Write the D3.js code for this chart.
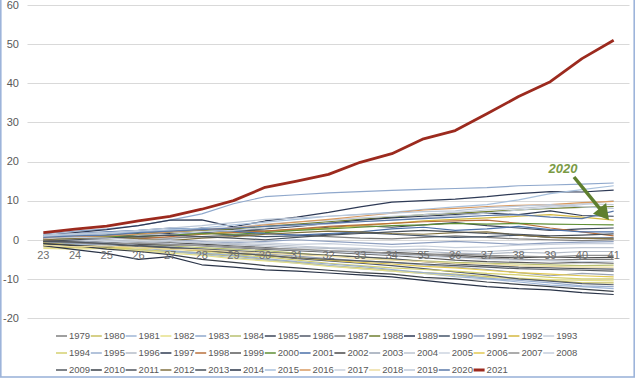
<!DOCTYPE html>
<html>
<head>
<meta charset="utf-8">
<script src="https://cdn.jsdelivr.net/npm/d3@7"></script>
<style>
  html, body { margin: 0; padding: 0; background: #ffffff; }
  svg { display: block; }
  text { font-family: "Liberation Sans", Arial, sans-serif; }
</style>
</head>
<body>
<svg id="chart" width="638" height="381"></svg>
<script>
// ---- data ----
const categories = [23,24,25,26,27,28,29,30,31,32,33,34,35,36,37,38,39,40,41];
const yTicks = [-20,-10,0,10,20,30,40,50,60];

const s1979 = [-0.4,0,0.2,0.6,0.4,0.8,1.2,1.6,1.2,0.8,0.4,0.2,0.6,1,0.6,0.2,0,-0.2,0];
const s1980 = [-1.8,-2,-2.2,-2.6,-3,-3.6,-4.2,-5,-5.8,-6.6,-7.2,-7.8,-8.4,-8.8,-9.4,-10,-10.4,-11,-11];
const s1981 = [-0.8,-1.2,-2,-2.6,-3,-3.8,-4.6,-5.2,-6,-6.6,-7.4,-8,-8.6,-9.4,-10,-10.8,-11.6,-12,-12.5];
const s1982 = [-2.2,-2.4,-2.2,-2.8,-3.4,-4,-4.8,-5.4,-6,-6.8,-7.4,-8,-8.6,-9.2,-9.6,-9.8,-10.2,-10.4,-10.5];
const s1983 = [1.5,2.2,2.8,3.6,5,6.6,9.2,11,11.5,12,12.3,12.6,12.9,13.1,13.3,13.8,14,14.2,14.5];
const s1984 = [-0.6,-1,-0.8,-1.2,-1.6,-2,-2.4,-2.8,-3.4,-4,-4.4,-5,-5.4,-5.8,-6,-6.2,-6.4,-6.6,-6.5];
const s1985 = [0.5,0.8,1.2,1.6,2,3,2.6,2.2,2.6,3.2,3.6,3.2,3.8,4.4,3.6,3,2.4,2.8,3];
const s1986 = [-0.6,-0.8,-1.2,-1.8,-2.2,-2.8,-3.4,-4,-4.8,-5.4,-6,-6.6,-7.4,-8.2,-9,-10,-10.6,-11.2,-11.5];
const s1987 = [-0.8,-0.6,-1,-1.4,-1,-1.6,-2,-2.4,-2.6,-3,-3.2,-3.6,-4,-4.4,-4.8,-5,-5.2,-5,-5];
const s1988 = [0.3,0.6,1.2,1.5,2,2.4,2.8,3.4,4,4.6,5.2,5.8,6.4,6.8,7.2,7.6,8,8.3,8.5];
const s1989 = [1,1.8,2.6,3.6,5,5.1,3.3,4.8,5.8,7,8.4,9.6,10,10.4,11,11.8,12.3,12.2,12.7];
const s1990 = [0.2,0.6,0.8,1,1.4,1.8,1.2,0.8,1,1.4,1.8,1.4,1,0.6,0.8,1.2,0.6,0.4,0.5];
const s1991 = [0.4,0.2,0.6,0.2,0,-0.4,-0.8,-0.4,0,-0.4,-0.8,-1.2,-0.8,-0.4,-0.8,-1.2,-0.8,-0.6,-0.5];
const s1992 = [0.4,0.5,0.2,0.8,1.2,1.5,2,2.2,2.6,3,3.6,4.2,4.8,5.2,5.6,6,6.4,5.8,5];
const s1993 = [0.8,1.2,1.5,2,2.4,2.8,3.2,4,4.6,5,5.6,6,6.4,7,7.6,8,8.6,9.2,9];
const s1994 = [-1.2,-1.6,-2,-2.4,-3,-3.2,-3.8,-4.4,-5.2,-6,-6.6,-7.2,-7.6,-8,-8.6,-9,-9.6,-10,-10];
const s1995 = [-0.5,-1,-1.4,-2,-2.8,-3.4,-4,-4.8,-5.6,-6.2,-6.8,-7.6,-8.4,-9,-9.8,-10.4,-11,-11.8,-12];
const s1996 = [0.6,0.4,0,-0.4,-0.8,-1,-1.2,-1.6,-2,-2.2,-2.6,-2.8,-3,-3.4,-3.6,-3.2,-3.4,-3,-3];
const s1997 = [0.2,0.5,0.8,1.2,1.6,1.8,2.4,2.8,3.4,4.2,5,5.6,6,6.4,6.8,6.4,7.4,6.2,6];
const s1998 = [-0.2,0.3,0.6,0.2,0.8,1.4,1.8,2.2,2.8,3.4,3.8,4.2,4.6,4.8,5,4.2,3,2,1];
const s1999 = [-0.2,-0.6,-1,-1.2,-1.4,-1.2,-1.8,-2.4,-2.8,-3.2,-3.6,-4,-4.6,-5.2,-5.6,-5.8,-6,-5.8,-6];
const s2000 = [0,0.4,0.8,1,1.2,1.6,1.4,1.8,2.4,2.8,3.2,3.6,3.8,4.2,4,4.2,4,3.9,3.8];
const s2001 = [1.2,1.6,2,2.4,3,2.8,2.2,1.6,1.2,1.6,2,2.8,3.2,2.4,2.8,3.4,2.6,2,2];
const s2002 = [0.2,-0.2,-0.6,-1,-0.8,-1.2,-1.6,-2,-2.6,-3,-3.4,-3.2,-3.6,-4,-4.4,-4.6,-4.4,-4.6,-4.5];
const s2003 = [0.2,-0.2,-0.8,-1.4,-1.8,-2.4,-3,-3.6,-4.2,-4.8,-5.4,-5.8,-6.4,-7,-7.6,-8.4,-9.2,-8.6,-9];
const s2004 = [0,0.2,-0.2,-0.6,-0.4,-0.8,-1,-1.2,-1.6,-2,-2.2,-2.6,-2.4,-2.8,-3,-2.6,-2.2,-2,-2];
const s2005 = [0.4,0,-0.4,-0.8,-1,-1.4,-1.8,-2.2,-2.6,-3,-3.4,-3.8,-4.2,-4.6,-5,-5.2,-5.4,-5.6,-5.5];
const s2006 = [-0.8,-1.4,-1.8,-2,-2.4,-2.8,-3.4,-4,-4.6,-5.2,-5.8,-6.2,-6.8,-7.2,-7.8,-8.4,-8.8,-9.2,-9.5];
const s2007 = [-0.4,-0.8,-1.2,-0.8,-1.2,-1.4,-1.8,-2.2,-2.4,-2.8,-3,-3.4,-3.8,-3.6,-4,-4.2,-4.4,-4,-4];
const s2008 = [1,1.4,1.8,1.2,1.4,2,2.4,3,3.6,4,4.6,5,5.6,6.2,6.8,7.6,8.2,9,10];
const s2009 = [-1,-1.4,-1.8,-1.4,-2,-2.6,-3.4,-4,-4.6,-5,-5.4,-5.8,-6.2,-6.6,-7,-7.4,-7.6,-7.8,-8];
const s2010 = [-1,-1.5,-2.4,-3,-3.8,-5,-5.8,-6.6,-7.2,-7.8,-8.4,-8.8,-9.6,-10,-10.8,-11.4,-12,-12.6,-13.2];
const s2011 = [-0.4,-0.6,-1,-1.6,-2,-2.4,-2.8,-3.2,-3.6,-4,-4.4,-4.8,-5.6,-6.2,-6.6,-7,-7.2,-7.4,-7.5];
const s2012 = [0,0.3,0.5,0.2,-0.2,0.4,0.8,1.4,1.8,2.2,2,1.6,1.4,1.8,2,1.2,0.6,0.4,0.2];
const s2013 = [-0.5,0,0.4,0.8,1.2,0.8,0.4,0,0.6,1.2,1.6,2,2.4,2,1.6,1.4,1,1.2,1.5];
const s2014 = [-1.5,-2.5,-3.5,-5,-4.3,-6.4,-7,-7.7,-8,-8.5,-9,-9.5,-10.4,-11.2,-12,-12.5,-12.8,-13.5,-14];
const s2015 = [0.8,1.2,1.6,2,2.6,3,3.8,4.5,5.2,6,6.5,7,7.8,8.4,9,10.2,11.8,12.8,13.8];
const s2016 = [0.5,0.8,1,1.4,2,2.5,3,3.8,4.5,5.2,6,6.8,7.6,8,8.5,8.8,9,9.5,9.8];
const s2017 = [0.8,0.6,0.4,0,-0.2,-0.6,-0.4,-0.8,-1.2,-1,-1.4,-1.8,-1.6,-2,-1.8,-1.4,-1.2,-1,-1];
const s2018 = [-1.4,-1.8,-1.6,-2,-2.4,-2.6,-3,-3.4,-3.8,-4.2,-4.8,-5.2,-5.6,-6,-6.2,-6.6,-6.8,-7,-7];
const s2019 = [1.2,1.6,1.8,2.4,3,3.6,4.4,5.2,5.6,6,6.4,6.8,7.2,7.4,8.2,8.6,9,8.4,8];
const s2020 = [0.6,1,1.2,1.8,2.2,2.6,3,3.4,3.8,4.2,4.6,5,5.4,5.8,6.2,6.4,5.8,5.4,7.3];
const s2021 = [1.8,2.7,3.5,4.8,6,7.8,10,13.4,15,16.7,19.8,22,25.8,27.9,32.2,36.6,40.4,46.3,51];

const years = [1979,1980,1981,1982,1983,1984,1985,1986,1987,1988,1989,1990,1991,1992,1993,1994,1995,1996,1997,1998,1999,2000,2001,2002,2003,2004,2005,2006,2007,2008,2009,2010,2011,2012,2013,2014,2015,2016,2017,2018,2019,2020,2021];
const seriesValues = [s1979,s1980,s1981,s1982,s1983,s1984,s1985,s1986,s1987,s1988,s1989,s1990,s1991,s1992,s1993,s1994,s1995,s1996,s1997,s1998,s1999,s2000,s2001,s2002,s2003,s2004,s2005,s2006,s2007,s2008,s2009,s2010,s2011,s2012,s2013,s2014,s2015,s2016,s2017,s2018,s2019,s2020,s2021];
const seriesColors = [
  '#7f7f7f','#c8c060','#9fb6d6','#e6e08a','#8fa8cc','#b8c070','#3c4658','#505868','#7a7a7a','#6f7f30',
  '#2e3a56','#44546a','#8fa0c0','#d4b840','#c4ccd8','#d4d070','#9aafcf','#b4bcc8','#2f3b52','#b8703c',
  '#5a5a5a','#5f8f35','#4a6fa8','#4a4a4a','#9aa4b4','#bcc4d0','#ccd4e0','#e2c850','#909090','#c4cedc',
  '#555a60','#3a4048','#50565e','#807040','#48505a','#2a3448','#a8c0dc','#d89a60','#c8d0dc','#ecdca0',
  '#bcc8d8','#5a78a8','#9c2a1e'];

// ---- layout ----
const svg = d3.select('#chart');
const plotLeft = 27.5, plotRight = 629.5;
const x = d3.scalePoint().domain(categories).range([plotLeft, plotRight]).padding(0.5);
const y = d3.scaleLinear().domain([-20, 60]).range([318, 5]);

// border
svg.append('rect')
  .attr('x', 0.8).attr('y', -5).attr('width', 633.4).attr('height', 382)
  .attr('fill', 'none').attr('stroke', '#9db4da').attr('stroke-width', 1.6);

// gridlines
svg.append('g').selectAll('line').data(yTicks).join('line')
  .attr('x1', plotLeft).attr('x2', plotRight)
  .attr('y1', d => Math.round(y(d)) + 0.5).attr('y2', d => Math.round(y(d)) + 0.5)
  .attr('stroke', '#d9d9d9').attr('stroke-width', 1);

// y labels
svg.append('g').selectAll('text').data(yTicks).join('text')
  .attr('x', 19).attr('y', d => y(d)).attr('dy', '0.35em')
  .attr('text-anchor', 'end').attr('font-size', 11).attr('fill', '#595959')
  .text(d => d);

// lines
const line = d3.line().x((d, i) => x(categories[i])).y(d => y(d));
const gLines = svg.append('g').attr('fill', 'none');
seriesValues.forEach((vals, k) => {
  const is2021 = years[k] === 2021;
  gLines.append('path')
    .attr('d', line(vals))
    .attr('stroke', seriesColors[k])
    .attr('stroke-width', is2021 ? 2.8 : 1.2)
    .attr('stroke-linejoin', 'round');
});

// x labels (category axis at 0)
svg.append('g').selectAll('text').data(categories).join('text')
  .attr('x', d => x(d)).attr('y', y(0) + 15).attr('dy', '0.35em')
  .attr('text-anchor', 'middle').attr('font-size', 11).attr('fill', '#6f6f6f')
  .text(d => d);

// annotation 2020
svg.append('text')
  .attr('x', 563).attr('y', 168).attr('dy', '0.35em')
  .attr('text-anchor', 'middle').attr('font-size', 13)
  .attr('font-weight', 'bold').attr('font-style', 'italic')
  .attr('fill', '#7a9a45').text('2020');
const ax0 = 574, ay0 = 177, ax1 = 609, ay1 = 220;
const len = Math.hypot(ax1 - ax0, ay1 - ay0);
const ux = (ax1 - ax0) / len, uy = (ay1 - ay0) / len;
const hb = 15, hw = 8.5;
const bx = ax1 - hb * ux, by = ay1 - hb * uy;
svg.append('line')
  .attr('x1', ax0).attr('y1', ay0).attr('x2', bx + ux).attr('y2', by + uy)
  .attr('stroke', '#5e7f2e').attr('stroke-width', 3.5);
svg.append('path')
  .attr('d', `M${ax1},${ay1}L${bx - uy * hw},${by + ux * hw}L${bx + uy * hw},${by - ux * hw}Z`)
  .attr('fill', '#5e7f2e');

// legend
const perRow = 15, legX0 = 56, legStep = 34.8, rowY = [336, 353, 370];
const leg = svg.append('g').selectAll('g').data(years).join('g')
  .attr('transform', (d, i) => `translate(${legX0 + (i % perRow) * legStep},${rowY[Math.floor(i / perRow)]})`);
leg.append('line')
  .attr('x1', 0).attr('x2', 11).attr('y1', 0).attr('y2', 0)
  .attr('stroke', (d, i) => seriesColors[i])
  .attr('stroke-width', d => d === 2021 ? 3 : 1.5);
leg.append('text')
  .attr('x', 13).attr('y', 0).attr('dy', '0.35em')
  .attr('font-size', 9.5).attr('fill', '#595959')
  .text(d => d);
</script>
</body>
</html>
